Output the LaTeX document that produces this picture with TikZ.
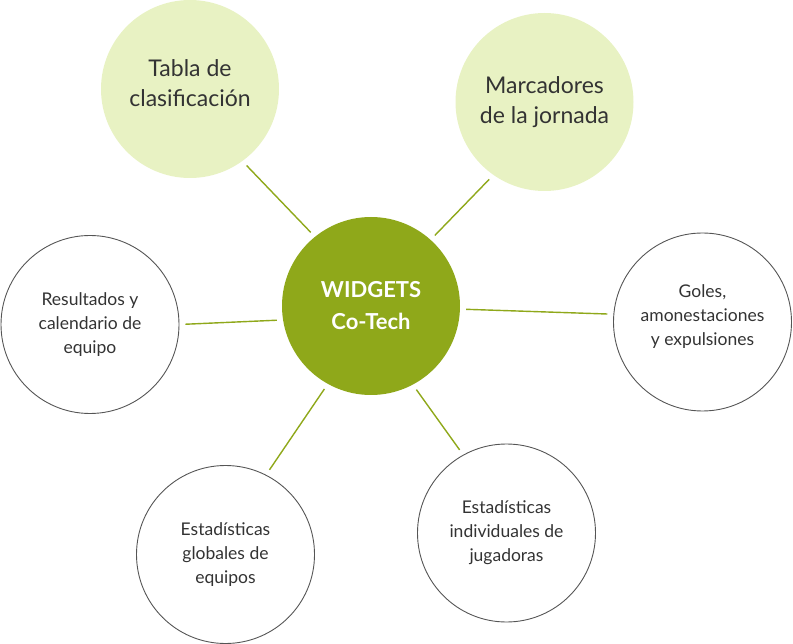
\documentclass[tikz,border=0pt]{standalone}
\usepackage{fontspec}
\setmainfont{Lato}
\definecolor{hubgreen}{HTML}{8FA81A}
\definecolor{softgreen}{HTML}{E8F2C3}
\definecolor{ringgrey}{HTML}{555555}
\definecolor{ink}{HTML}{333333}

\tikzset{
  bubble/.style={circle, minimum size=178pt, inner sep=0pt, align=center, text=ink},
  hub/.style={bubble, fill=hubgreen, text=white, font=\fontsize{22}{32}\selectfont\bfseries},
  topic/.style={bubble, fill=softgreen, font=\fontsize{23}{30}\selectfont},
  leaf/.style={bubble, draw=ringgrey, line width=0.9pt, font=\fontsize{17.5}{24}\selectfont},
  link/.style={draw=hubgreen, line width=1.4pt, shorten <=6pt, shorten >=6pt},
}

\begin{document}
\begin{tikzpicture}[x=1pt, y=1pt]
  \useasboundingbox (0,0) rectangle (793,-644);

  % centre and the six topics
  \node[hub] (hub) at (371,-306) {WIDGETS\\Co-Tech};
  \node[topic] (tabla) at (190,-89) {Tabla de\\clasificación\rule[-12pt]{0pt}{0pt}};
  \node[topic] (marcadores) at (544.5,-102) {Marcadores\\de la jornada};
  \node[leaf] (resultados) at (90,-324.5) {Resultados y\\calendario de\\equipo};
  \node[leaf] (goles) at (702.5,-322) {Goles,\\amonestaciones\\y expulsiones\rule[-14pt]{0pt}{0pt}};
  \node[leaf] (globales) at (225.5,-554.5) {Estadísticas\\globales de\\equipos};
  \node[leaf] (individuales) at (506.5,-533) {Estadísticas\\individuales de\\jugadoras};

  % spokes
  \draw[link] (hub.129) -- (tabla.306);
  \draw[link] (hub.48) -- (marcadores.235);
  \draw[link] (hub.189) -- (resultados.0);
  \draw[link] (hub.358) -- (goles.175);
  \draw[link] (hub.241) -- (globales.63);
  \draw[link] (hub.298) -- (individuales.119);
\end{tikzpicture}
\end{document}
